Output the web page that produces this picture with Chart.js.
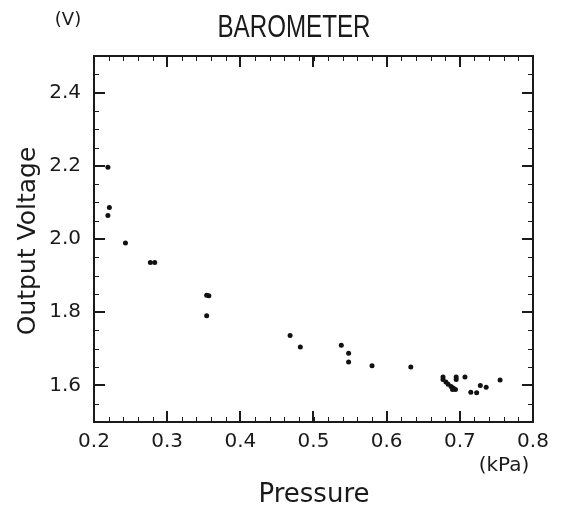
<!DOCTYPE html>
<html>
<head>
<meta charset="utf-8">
<script src="https://cdn.jsdelivr.net/npm/chart.js@4.4.0/dist/chart.umd.min.js"></script>
<style>
  html, body { margin: 0; padding: 0; background: #fff; }
  #chart { display: block; }
</style>
</head>
<body>
<canvas id="chart" width="561" height="509"></canvas>
<script>
// pressure (kPa) vs output voltage (V)
var pressure = [0.219, 0.221, 0.219, 0.243, 0.277, 0.283, 0.354, 0.357, 0.354,
    0.468, 0.482, 0.538, 0.548, 0.548, 0.580, 0.633,
    0.677, 0.677, 0.681, 0.684, 0.688, 0.691, 0.694, 0.690, 0.695, 0.695,
    0.707, 0.715, 0.723, 0.728, 0.736, 0.755];
var voltage = [2.196, 2.086, 2.064, 1.989, 1.936, 1.936, 1.846, 1.845, 1.790,
    1.736, 1.705, 1.710, 1.688, 1.664, 1.654, 1.650,
    1.623, 1.616, 1.609, 1.603, 1.597, 1.593, 1.589, 1.589, 1.623, 1.616,
    1.623, 1.581, 1.580, 1.600, 1.595, 1.615];

var xTicks = [0.2, 0.3, 0.4, 0.5, 0.6, 0.7, 0.8];
var yTicks = [1.6, 1.8, 2.0, 2.2, 2.4];

var pts = [];
for (var i = 0; i < pressure.length; i++) {
    pts.push({x: pressure[i], y: voltage[i]});
}

var font = "'DejaVu Sans', sans-serif";

// frame with inward ticks + the loose texts
var framePlugin = {
    id: 'frame',
    afterDraw: function(chart) {
        var ctx = chart.ctx;
        var a = chart.chartArea;
        var xs = chart.scales.x, ys = chart.scales.y;
        ctx.save();
        ctx.strokeStyle = '#1a1a1a';
        ctx.lineWidth = 2;
        ctx.strokeRect(a.left, a.top, a.right - a.left, a.bottom - a.top);

        // minor ticks
        ctx.lineWidth = 1;
        ctx.beginPath();
        for (var v = 0.2; v < 0.8001; v += 0.02) {
            var px = Math.round(xs.getPixelForValue(v)) + 0.5;
            ctx.moveTo(px, a.bottom); ctx.lineTo(px, a.bottom - 5);
            ctx.moveTo(px, a.top); ctx.lineTo(px, a.top + 5);
        }
        for (var w = 1.5; w < 2.5001; w += 0.05) {
            var py = Math.round(ys.getPixelForValue(w)) + 0.5;
            ctx.moveTo(a.left, py); ctx.lineTo(a.left + 5, py);
            ctx.moveTo(a.right, py); ctx.lineTo(a.right - 5, py);
        }
        ctx.stroke();

        // major ticks
        ctx.lineWidth = 2;
        ctx.beginPath();
        xTicks.forEach(function(v) {
            var px = Math.round(xs.getPixelForValue(v));
            ctx.moveTo(px, a.bottom); ctx.lineTo(px, a.bottom - 11);
            ctx.moveTo(px, a.top); ctx.lineTo(px, a.top + 11);
        });
        yTicks.forEach(function(v) {
            var py = Math.round(ys.getPixelForValue(v));
            ctx.moveTo(a.left, py); ctx.lineTo(a.left + 11, py);
            ctx.moveTo(a.right, py); ctx.lineTo(a.right - 11, py);
        });
        ctx.stroke();

        ctx.fillStyle = '#1a1a1a';
        ctx.textAlign = 'center';
        ctx.textBaseline = 'middle';
        ctx.font = "32px 'Liberation Sans', sans-serif";
        ctx.fillText('BAROMETER', 294, 28, 153);
        ctx.font = "18px " + font;
        ctx.fillText('(V)', 68, 20);
        ctx.font = "20px " + font;
        ctx.fillText('(kPa)', 504, 466);
        ctx.font = "26px " + font;
        ctx.fillText('Pressure', 314, 495);
        ctx.font = "25px " + font;
        ctx.translate(28, 241);
        ctx.rotate(-Math.PI / 2);
        ctx.fillText('Output Voltage', 0, 0);
        ctx.restore();
    }
};

window.onload = function() {
    var ctx = document.getElementById('chart').getContext('2d');
    var config = {
        type: 'scatter',
        data: {
            datasets: [{
                data: pts,
                backgroundColor: '#111',
                borderColor: '#111',
                pointRadius: 2.5,
                borderWidth: 0
            }]
        },
        options: {
            responsive: false,
            animation: false,
            layout: { padding: { left: 0, top: 56, right: 28, bottom: 0 } },
            plugins: { legend: { display: false }, tooltip: { enabled: false } },
            scales: {
                x: {
                    type: 'linear', min: 0.2, max: 0.8,
                    grid: { display: false, drawTicks: false },
                    border: { display: false },
                    afterBuildTicks: function(s) { s.ticks = xTicks.map(function(v) { return {value: v}; }); },
                    afterFit: function(s) { s.height = 87; },
                    ticks: {
                        color: '#1a1a1a', padding: 8, maxRotation: 0,
                        font: { family: font, size: 20 },
                        callback: function(v) { return v.toFixed(1); }
                    }
                },
                y: {
                    type: 'linear', min: 1.5, max: 2.5,
                    grid: { display: false, drawTicks: false },
                    border: { display: false },
                    afterBuildTicks: function(s) { s.ticks = yTicks.map(function(v) { return {value: v}; }); },
                    afterFit: function(s) { s.width = 94; },
                    ticks: {
                        color: '#1a1a1a', padding: 13,
                        font: { family: font, size: 20 },
                        callback: function(v) { return v.toFixed(1); }
                    }
                }
            }
        },
        plugins: [framePlugin]
    };
    window.myChart = new Chart(ctx, config);
};
</script>
</body>
</html>
